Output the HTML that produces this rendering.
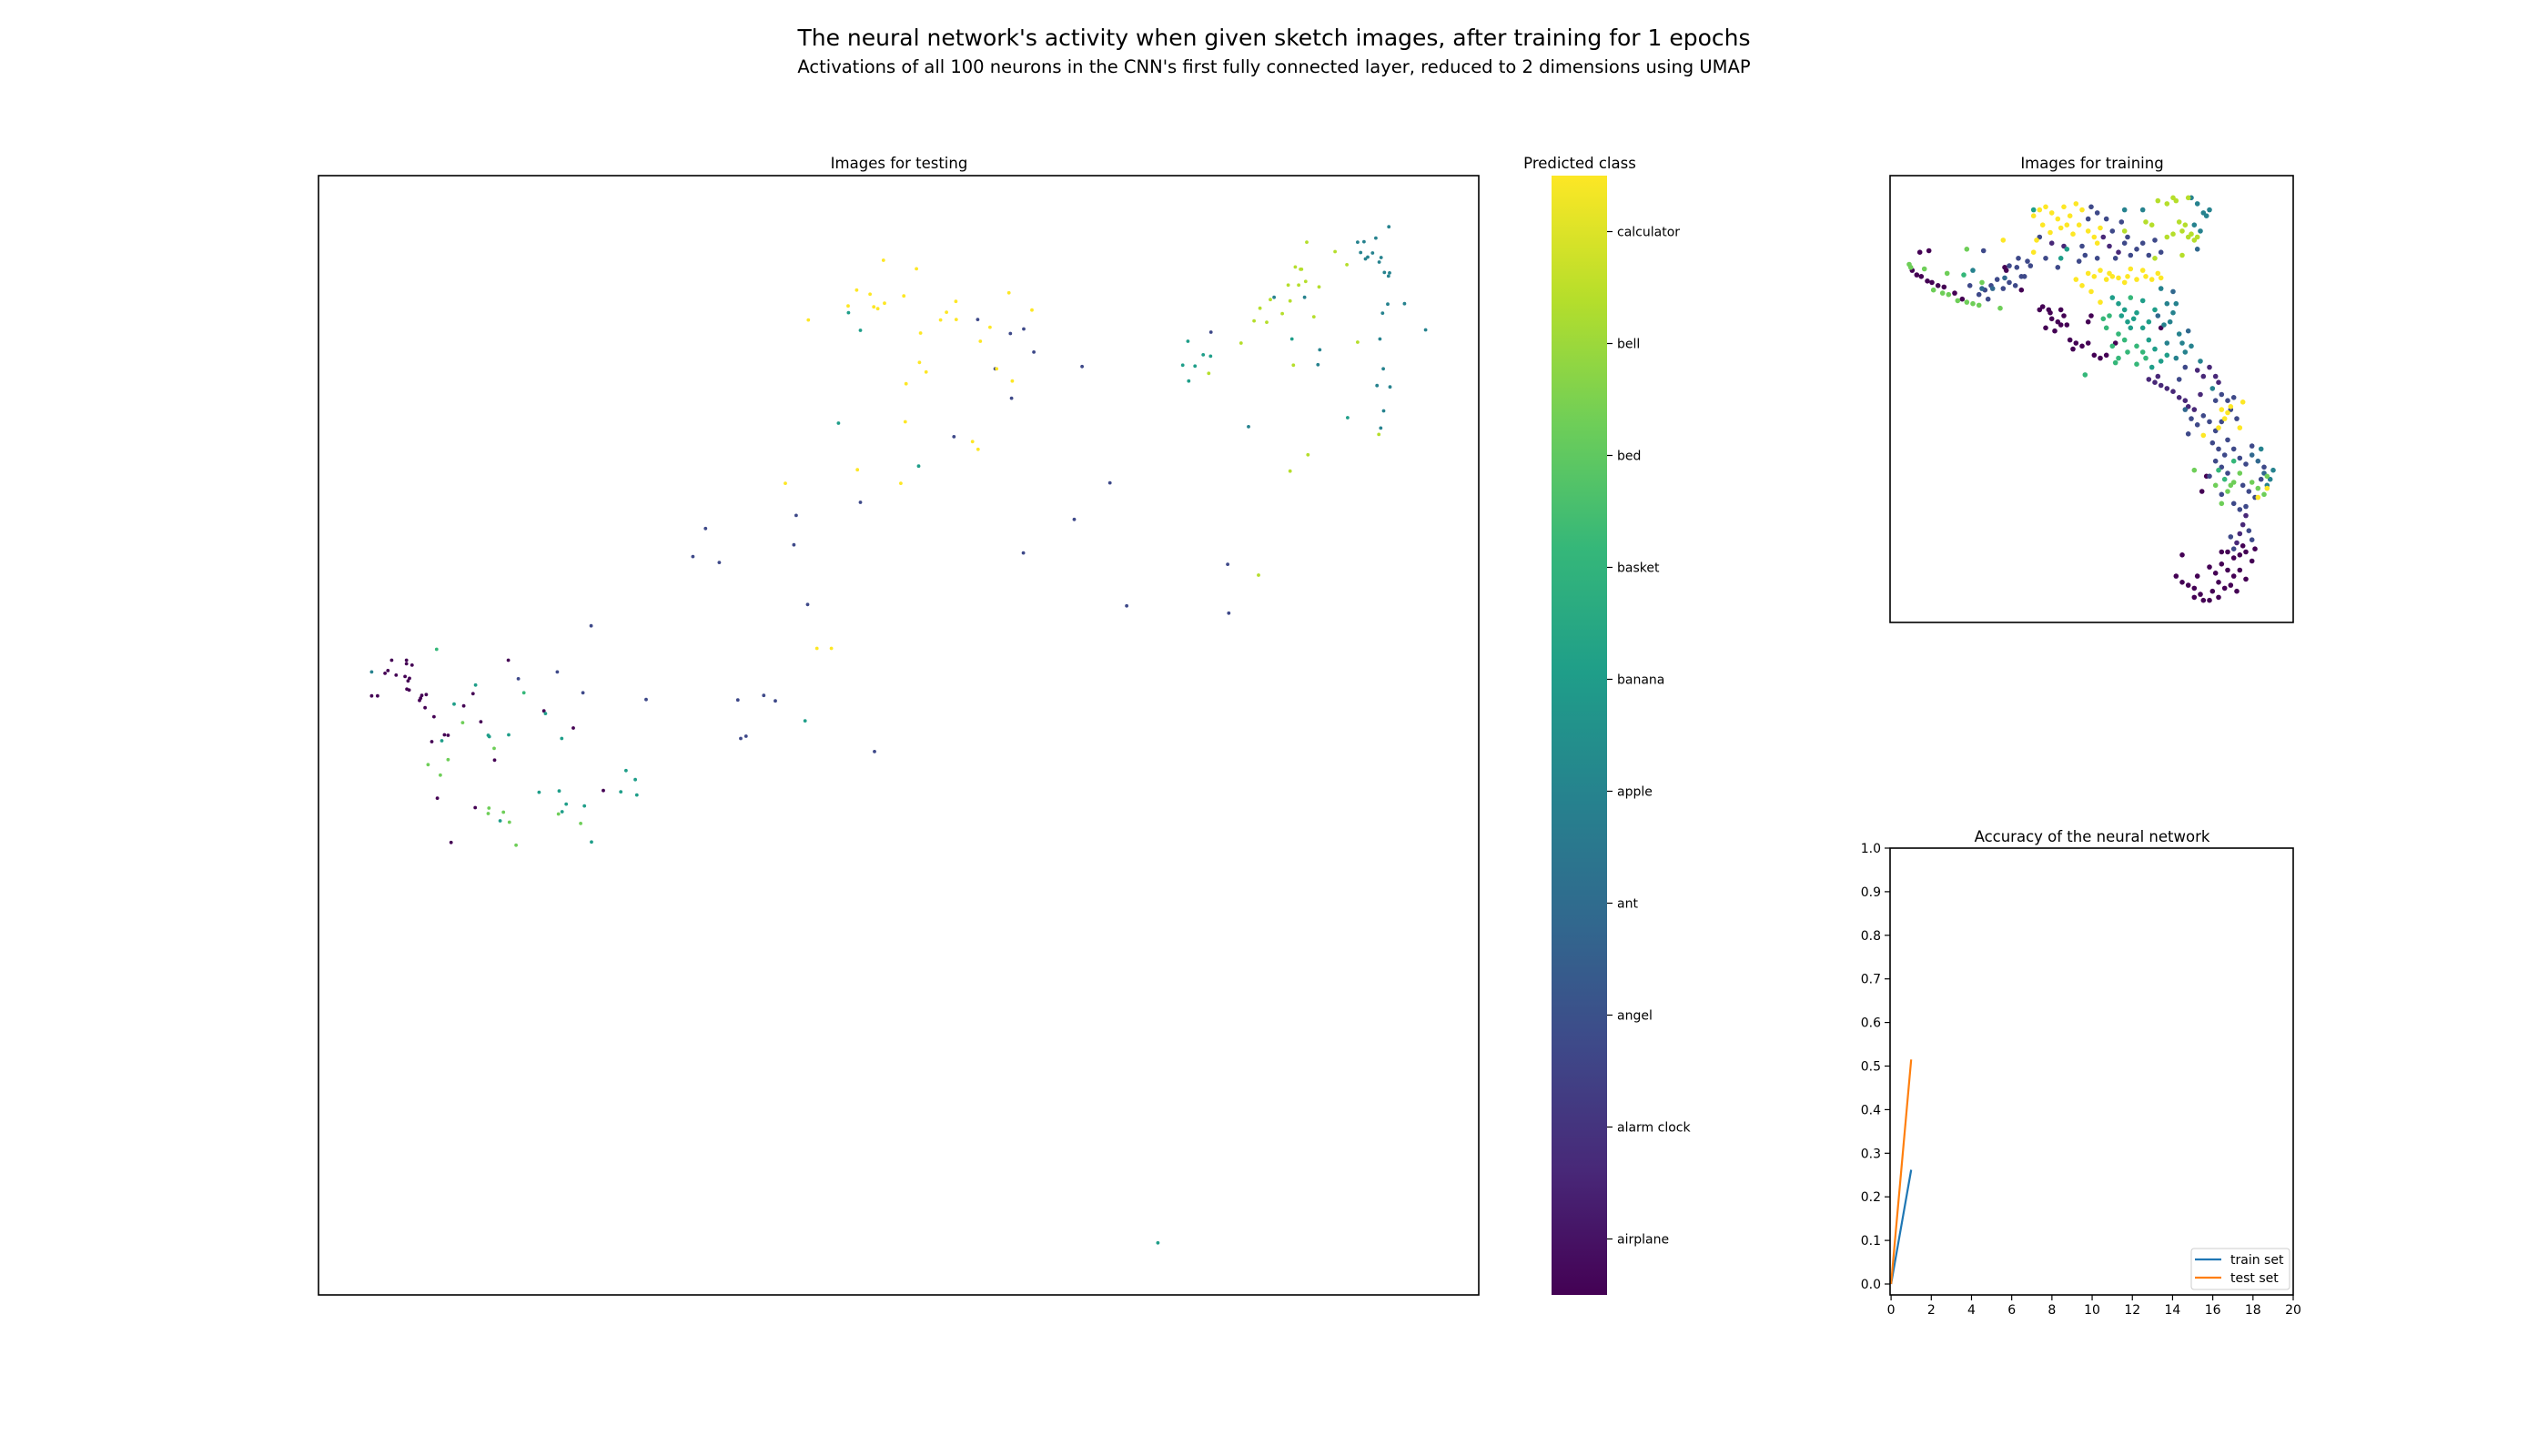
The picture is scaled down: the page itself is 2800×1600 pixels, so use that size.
<!DOCTYPE html>
<html><head><meta charset="utf-8"><style>
html,body{margin:0;padding:0;background:#fff;}
svg{display:block;font-family:"DejaVu Sans","Liberation Sans",sans-serif;}
</style></head><body>
<svg id="fig" width="2800" height="1600" viewBox="0 0 2800 1600" xmlns="http://www.w3.org/2000/svg">
<defs>
<linearGradient id="viridis" x1="0" y1="1" x2="0" y2="0">
<stop offset="0" stop-color="#440154"/><stop offset="0.111" stop-color="#482878"/><stop offset="0.222" stop-color="#3e4989"/><stop offset="0.333" stop-color="#31688e"/><stop offset="0.444" stop-color="#26828e"/><stop offset="0.556" stop-color="#1f9e89"/><stop offset="0.667" stop-color="#35b779"/><stop offset="0.778" stop-color="#6ece58"/><stop offset="0.889" stop-color="#b5de2b"/><stop offset="1" stop-color="#fde725"/>
</linearGradient>
</defs>
<text x="1400" y="50" font-size="25" text-anchor="middle">The neural network's activity when given sketch images, after training for 1 epochs</text>
<text x="1400" y="80" font-size="19.5" text-anchor="middle">Activations of all 100 neurons in the CNN's first fully connected layer, reduced to 2 dimensions using UMAP</text>

<g id="test-plot">
<text x="988" y="185" font-size="16.5" text-anchor="middle">Images for testing</text>
<g id="test-points"></g>
<rect x="350" y="193" width="1275" height="1230" fill="none" stroke="#000" stroke-width="1.6"/>
</g>

<g id="colorbar">
<text x="1736" y="185" font-size="16.5" text-anchor="middle">Predicted class</text>
<rect x="1705" y="193" width="61" height="1230" fill="url(#viridis)"/>
<g id="cbar-ticks"></g>
</g>

<g id="train-plot">
<text x="2299" y="185" font-size="16.5" text-anchor="middle">Images for training</text>
<g id="train-points"></g>
<rect x="2077" y="193" width="443" height="491" fill="none" stroke="#000" stroke-width="1.6"/>
</g>

<g id="acc-plot">
<text x="2299" y="925" font-size="16.5" text-anchor="middle">Accuracy of the neural network</text>
<g id="acc-axes"></g>
<g id="acc-lines"></g>
<rect x="2077" y="932" width="443" height="491" fill="none" stroke="#000" stroke-width="1.6"/>
<g id="acc-legend">
<rect x="2408" y="1372" width="108" height="45" rx="3" fill="#fff" fill-opacity="0.8" stroke="#ccc"/>
<line x1="2412" y1="1384" x2="2441" y2="1384" stroke="#1f77b4" stroke-width="2.2"/>
<text x="2451" y="1389" font-size="14">train set</text>
<line x1="2412" y1="1404" x2="2441" y2="1404" stroke="#ff7f0e" stroke-width="2.2"/>
<text x="2451" y="1409" font-size="14">test set</text>
</g>
</g>
</svg>
<script>
const classNames = ["airplane","alarm clock","angel","ant","apple","banana","basket","bed","bell","calculator"];
const classColors = ["#440154","#482878","#3e4989","#31688e","#26828e","#1f9e89","#35b779","#6ece58","#b5de2b","#fde725"];

// Test-set UMAP embedding, per predicted class: [umap1, umap2]
const testAirplane = [[1.92,-10.67],[2.32,-10.67],[2.32,-10.75],[2.47,-10.78],[5.06,-10.67],[1.82,-10.90],[1.74,-10.96],[2.04,-11.00],[2.28,-11.03],[2.40,-11.07],[2.36,-11.13],[2.33,-11.31],[2.39,-11.33],[2.85,-11.43],[2.73,-11.45],[1.38,-11.46],[1.54,-11.46],[4.11,-11.41],[2.70,-11.51],[2.67,-11.56],[3.86,-11.68],[2.82,-11.72],[6.02,-11.79],[3.06,-11.92],[4.32,-12.03],[6.81,-12.17],[3.34,-12.32],[3.44,-12.33],[3.00,-12.47],[4.69,-12.88],[7.62,-13.55],[3.15,-13.72],[4.17,-13.93],[3.52,-14.70]];
const testAngel = [[14.54,-7.18],[12.81,-7.47],[10.37,-7.76],[12.75,-8.12],[10.03,-8.38],[10.74,-8.51],[13.12,-9.44],[7.29,-9.91],[5.33,-11.08],[6.38,-10.93],[7.07,-11.39],[8.77,-11.54],[11.24,-11.55],[11.94,-11.45],[12.25,-11.57],[11.32,-12.40],[11.46,-12.35],[14.92,-12.69],[17.70,-3.14],[18.94,-3.35],[18.58,-3.45],[19.21,-3.86],[23.98,-3.42],[20.51,-4.18],[18.17,-4.23],[18.61,-4.88],[17.06,-5.73],[21.26,-6.75],[20.30,-7.56],[18.93,-8.30],[24.43,-8.55],[21.71,-9.47],[24.46,-9.63]];
const testApple = [[1.38,-10.93],[28.77,-1.09],[27.93,-1.43],[28.10,-1.42],[28.42,-1.34],[28.01,-1.66],[28.33,-1.67],[28.20,-1.76],[28.14,-1.80],[28.56,-1.77],[28.51,-1.87],[28.65,-2.10],[28.79,-2.11],[28.76,-2.18],[25.68,-2.65],[26.50,-2.65],[29.19,-2.79],[28.74,-2.80],[28.60,-3.00],[29.76,-3.37],[28.53,-3.57],[26.91,-3.81],[26.86,-4.14],[28.62,-4.23],[28.45,-4.60],[28.80,-4.63],[28.63,-5.16],[24.99,-5.51],[28.55,-5.54]];
const testBanana = [[14.22,-2.99],[14.54,-3.38],[13.95,-5.43],[4.18,-11.22],[3.60,-11.64],[6.06,-11.85],[13.05,-12.01],[4.52,-12.33],[4.55,-12.36],[5.07,-12.32],[3.27,-12.45],[6.50,-12.40],[8.23,-13.11],[8.48,-13.31],[5.89,-13.59],[6.43,-13.56],[8.09,-13.58],[8.52,-13.65],[6.62,-13.85],[7.11,-13.89],[6.51,-14.02],[4.84,-14.22],[7.30,-14.69],[23.36,-3.62],[26.16,-3.57],[23.77,-3.92],[23.97,-3.95],[23.22,-4.15],[23.55,-4.17],[23.38,-4.50],[27.66,-5.31],[16.11,-6.38],[22.55,-23.55]];
const testBasket = [[3.13,-10.43],[5.48,-11.39]];
const testBed = [[3.83,-12.05],[4.68,-12.62],[3.44,-12.87],[2.90,-12.98],[3.23,-13.21],[4.54,-13.94],[4.52,-14.06],[4.93,-14.03],[6.41,-14.07],[5.09,-14.25],[7.01,-14.28],[5.27,-14.76]];
const testBell = [[26.56,-1.43],[27.32,-1.64],[27.64,-1.93],[26.25,-1.98],[26.39,-2.03],[26.42,-2.03],[26.06,-2.38],[26.34,-2.38],[26.53,-2.30],[26.89,-2.42],[25.58,-2.70],[26.11,-2.73],[25.30,-2.89],[25.90,-3.01],[25.14,-3.17],[25.48,-3.20],[26.75,-3.08],[27.93,-3.64],[24.79,-3.66],[26.20,-4.15],[23.92,-4.33],[28.50,-5.68],[26.59,-6.13],[26.11,-6.49],[25.26,-8.79]];
const testCalculator = [[15.16,-1.83],[14.44,-2.49],[14.80,-2.58],[14.21,-2.84],[14.90,-2.86],[15.01,-2.90],[15.19,-2.78],[13.14,-3.15],[14.46,-6.46],[12.52,-6.76],[15.63,-6.76],[13.37,-10.41],[13.76,-10.41],[16.05,-2.02],[15.71,-2.62],[18.54,-2.55],[17.11,-2.74],[16.86,-2.98],[19.16,-2.93],[16.70,-3.15],[17.12,-3.14],[18.03,-3.31],[16.16,-3.44],[17.77,-3.62],[16.13,-4.09],[16.31,-4.30],[18.21,-4.23],[18.63,-4.50],[15.77,-4.56],[15.75,-5.40],[17.56,-5.84],[17.71,-6.01]];

// Training-set UMAP embedding, per predicted class: [umap1, umap2]
const trainAirplane = [[0.40,-3.10],[0.55,-3.25],[0.70,-3.30],[0.90,-3.45],[1.05,-3.50],[1.25,-3.60],[0.65,-2.50],[0.95,-2.45],[1.45,-3.65],[1.80,-3.85],[2.05,-4.05],[3.45,-3.00],[3.50,-3.10],[4.00,-3.75],[4.60,-4.40],[4.95,-4.50],[4.70,-4.30],[4.90,-4.40],[5.00,-4.70],[5.20,-4.80],[5.30,-4.90],[5.40,-4.60],[5.10,-5.10],[5.60,-5.40],[5.80,-5.50],[6.00,-5.60],[6.20,-5.50],[5.70,-5.70],[6.40,-5.90],[6.60,-6.00],[5.50,-4.90],[4.80,-5.00],[5.30,-4.40],[6.20,-4.80],[6.30,-4.60],[6.80,-5.90],[7.10,-5.50],[8.60,-5.00],[10.10,-9.90],[9.95,-10.40],[10.80,-12.40],[11.00,-12.60],[11.20,-12.50],[11.40,-12.40],[11.60,-12.70],[10.60,-12.80],[10.80,-13.00],[11.00,-13.20],[11.20,-13.00],[10.50,-13.40],[10.70,-13.60],[10.90,-13.50],[11.10,-13.70],[10.30,-13.70],[10.50,-13.90],[10.20,-14.00],[9.90,-13.80],[9.70,-13.60],[9.50,-13.50],[9.30,-13.40],[9.10,-13.20],[9.70,-13.90],[10.00,-14.00],[10.40,-13.10],[10.60,-12.40],[11.40,-13.30],[11.70,-12.30],[9.30,-12.50],[11.30,-12.20],[10.20,-12.90],[9.80,-13.20]];
const trainAlarmClock = [[8.20,-6.70],[8.40,-6.80],[8.60,-6.90],[8.80,-7.00],[8.50,-6.60],[9.00,-7.10],[9.20,-7.30],[9.40,-7.40],[9.50,-7.60],[9.70,-7.70],[9.80,-6.40],[10.00,-6.60],[10.20,-6.30],[10.40,-6.60],[10.50,-6.80],[9.90,-7.20],[11.40,-11.20],[11.30,-11.50],[11.20,-11.80],[11.10,-12.10],[6.70,-2.00],[6.90,-2.30],[7.20,-2.50],[5.40,-2.30],[5.00,-2.20]];
const trainAngel = [[2.30,-3.60],[2.60,-3.90],[2.80,-3.75],[3.00,-3.60],[3.20,-3.40],[3.40,-3.70],[3.60,-3.50],[3.80,-3.60],[2.90,-4.05],[3.60,-2.95],[3.85,-3.00],[4.10,-3.30],[4.30,-2.95],[2.75,-2.45],[6.30,-1.00],[6.50,-1.20],[6.80,-1.40],[6.20,-1.40],[7.00,-1.80],[7.40,-2.20],[7.60,-2.60],[7.80,-2.40],[7.50,-2.00],[8.00,-2.20],[8.20,-2.60],[6.00,-2.30],[4.80,-2.70],[4.60,-2.00],[5.90,-2.80],[6.10,-2.60],[7.30,-1.50],[8.40,-2.10],[5.20,-3.00],[4.20,-2.80],[4.00,-3.30],[3.90,-2.70],[6.50,-2.70],[7.10,-2.70],[8.60,-2.50],[10.00,-7.90],[10.20,-8.10],[10.40,-7.40],[10.60,-7.20],[10.80,-7.40],[10.90,-7.70],[11.00,-7.30],[9.60,-8.00],[9.80,-8.20],[10.40,-8.40],[10.60,-8.10],[11.10,-8.00],[9.20,-6.70],[9.40,-6.30],[10.80,-8.70],[9.50,-8.50],[10.30,-8.80],[10.50,-9.00],[10.70,-9.20],[10.40,-9.40],[10.60,-9.60],[10.80,-9.80],[11.00,-9.00],[11.20,-9.30],[11.40,-9.50],[11.60,-8.90],[11.30,-10.20],[11.50,-10.40],[11.70,-10.60],[11.90,-10.00],[10.20,-9.90],[11.00,-10.80],[11.20,-11.00],[11.40,-10.90],[12.00,-9.60],[10.60,-10.50],[11.00,-12.30],[11.50,-11.70],[11.60,-12.00],[10.90,-11.90]];
const trainAnt = [[2.70,-3.70],[3.05,-3.70],[3.45,-3.35],[9.80,-2.40],[9.00,-3.80],[8.50,-4.60],[9.50,-5.10],[11.60,-9.20],[11.80,-9.40],[12.00,-9.80],[9.40,-7.70]];
const trainApple = [[2.40,-3.10],[9.60,-0.70],[9.80,-0.90],[10.00,-1.20],[10.20,-1.10],[9.70,-1.60],[9.90,-1.80],[10.10,-1.30],[8.00,-1.10],[7.40,-1.10],[8.60,-3.70],[8.80,-4.20],[9.00,-4.50],[8.90,-4.80],[9.10,-4.20],[8.70,-4.90],[9.20,-5.20],[9.30,-5.50],[8.80,-5.50],[9.40,-5.80],[9.10,-6.00],[9.60,-5.60],[9.90,-6.10],[10.30,-7.00],[12.20,-10.00],[12.30,-9.70],[11.90,-9.00],[12.10,-10.20]];
const trainBanana = [[5.30,-2.70],[5.50,-2.40],[4.40,-1.10],[7.00,-4.00],[7.20,-4.20],[7.40,-4.40],[7.30,-4.60],[7.50,-4.80],[7.60,-5.00],[7.80,-4.50],[7.70,-4.70],[8.00,-5.00],[8.20,-5.40],[8.40,-5.70],[8.60,-6.10],[8.80,-5.90],[8.30,-6.30],[8.40,-4.40],[8.20,-4.80],[8.00,-4.10]];
const trainBasket = [[7.20,-5.20],[7.40,-5.40],[7.00,-5.60],[7.20,-6.00],[7.50,-5.80],[7.80,-5.60],[8.00,-5.80],[7.80,-6.20],[6.80,-5.00],[6.90,-4.60],[7.10,-6.15],[6.70,-4.70],[7.60,-4.00],[6.10,-6.55],[8.10,-6.00],[2.10,-3.25],[10.50,-9.70],[10.70,-10.00],[11.00,-9.40]];
const trainBed = [[0.30,-2.90],[0.35,-3.00],[1.10,-3.75],[1.40,-3.85],[1.60,-3.90],[1.90,-4.10],[2.20,-4.15],[2.40,-4.20],[2.60,-4.25],[1.55,-3.20],[2.70,-3.50],[3.30,-4.35],[2.20,-2.40],[0.80,-3.05],[10.90,-10.20],[10.80,-10.40],[11.00,-10.10],[11.20,-9.80],[11.80,-10.30],[12.00,-10.50],[12.10,-9.90],[11.60,-10.10],[10.60,-10.80],[10.40,-10.20],[9.70,-9.70]];
const trainBell = [[8.50,-0.80],[8.80,-0.90],[9.10,-0.80],[9.50,-0.70],[9.20,-1.50],[9.40,-1.60],[9.30,-1.80],[9.50,-2.00],[9.70,-2.10],[9.60,-1.90],[9.80,-2.00],[9.00,-1.90],[8.80,-2.00],[8.30,-1.60],[8.40,-2.70],[8.10,-1.50],[7.40,-1.80],[9.30,-2.60],[9.00,-0.70]];
const trainCalculator = [[4.40,-1.30],[4.60,-1.10],[4.80,-1.00],[5.00,-1.20],[5.20,-1.40],[5.40,-1.00],[5.50,-1.60],[5.60,-1.30],[5.30,-1.70],[5.70,-1.90],[5.90,-1.60],[4.70,-1.60],[4.50,-2.10],[4.40,-2.50],[6.00,-1.10],[6.20,-1.80],[6.40,-2.00],[5.80,-0.90],[6.50,-2.20],[4.95,-1.85],[6.60,-1.70],[3.40,-2.10],[6.20,-3.20],[6.40,-3.30],[6.60,-3.10],[6.80,-3.40],[7.00,-3.30],[7.20,-3.35],[6.90,-3.20],[7.50,-3.30],[7.80,-3.40],[8.10,-3.30],[8.30,-3.40],[8.50,-3.20],[8.00,-3.10],[6.00,-3.60],[5.80,-3.40],[6.60,-4.15],[7.40,-3.50],[8.60,-3.35],[7.60,-3.05],[6.30,-3.80],[10.60,-7.70],[10.80,-7.80],[10.70,-8.00],[10.90,-7.60],[11.30,-7.45],[10.50,-8.30],[11.20,-8.30],[10.00,-8.55],[12.10,-10.30],[11.80,-10.60]];

// Accuracy history
const epochs = [0, 1];
const trainAccuracy = [0.0, 0.262];
const testAccuracy = [0.0, 0.515];
const accXTicks = [0,2,4,6,8,10,12,14,16,18,20];
const accYTicks = [0.0,0.1,0.2,0.3,0.4,0.5,0.6,0.7,0.8,0.9,1.0];

const NS = "http://www.w3.org/2000/svg";
function lin(d0,d1,r0,r1){return v=>r0+(v-d0)/(d1-d0)*(r1-r0);}

const testXS = lin(-0.05,31.19,350,1625);
const testYS = lin(0.04,-24.70,193,1423);
const trainXS = lin(-0.33,12.96,2077,2520);
const trainYS = lin(0.03,-14.73,193,684);

const testSets = [testAirplane,[],testAngel,[],testApple,testBanana,testBasket,testBed,testBell,testCalculator];
const trainSets = [trainAirplane,trainAlarmClock,trainAngel,trainAnt,trainApple,trainBanana,trainBasket,trainBed,trainBell,trainCalculator];

const tg = document.getElementById('test-points');
testSets.forEach((pts,ci)=>{
  pts.forEach(p=>{
    const c=document.createElementNS(NS,'circle');
    c.setAttribute('cx',testXS(p[0]).toFixed(1));
    c.setAttribute('cy',testYS(p[1]).toFixed(1));
    c.setAttribute('r','1.9');
    c.setAttribute('fill',classColors[ci]);
    
    
    tg.appendChild(c);
  });
});
const trg = document.getElementById('train-points');
trainSets.forEach((pts,ci)=>{
  pts.forEach(p=>{
    const c=document.createElementNS(NS,'circle');
    c.setAttribute('cx',trainXS(p[0]).toFixed(1));
    c.setAttribute('cy',trainYS(p[1]).toFixed(1));
    c.setAttribute('r','2.8');
    c.setAttribute('fill',classColors[ci]);
    
    
    trg.appendChild(c);
  });
});

// colorbar ticks
const cbS = lin(-0.5,9.5,1423,193);
const cb = document.getElementById('cbar-ticks');
classNames.forEach((n,i)=>{
  const y=cbS(i);
  const l=document.createElementNS(NS,'line');
  l.setAttribute('x1',1766);l.setAttribute('x2',1772);l.setAttribute('y1',y);l.setAttribute('y2',y);
  l.setAttribute('stroke','#000');l.setAttribute('stroke-width','1.2');
  
  
  cb.appendChild(l);
  const t=document.createElementNS(NS,'text');
  t.setAttribute('x',1777);t.setAttribute('y',y+5);t.setAttribute('font-size','14');
  t.textContent=n;
  
  
  cb.appendChild(t);
});

// accuracy chart
const accX = lin(-0.05,20,2077,2520);
const accY = lin(0,1,1411,932);
const ax = document.getElementById('acc-axes');
accXTicks.forEach(v=>{
  const x=accX(v);
  const l=document.createElementNS(NS,'line');
  l.setAttribute('x1',x);l.setAttribute('x2',x);l.setAttribute('y1',1423);l.setAttribute('y2',1429);
  l.setAttribute('stroke','#000');l.setAttribute('stroke-width','1.2');
  
  
  ax.appendChild(l);
  const t=document.createElementNS(NS,'text');
  t.setAttribute('x',x);t.setAttribute('y',1444);t.setAttribute('font-size','14');t.setAttribute('text-anchor','middle');
  t.textContent=String(v);
  
  
  ax.appendChild(t);
});
accYTicks.forEach(v=>{
  const y=accY(v);
  const l=document.createElementNS(NS,'line');
  l.setAttribute('x1',2071);l.setAttribute('x2',2077);l.setAttribute('y1',y);l.setAttribute('y2',y);
  l.setAttribute('stroke','#000');l.setAttribute('stroke-width','1.2');
  
  
  ax.appendChild(l);
  const t=document.createElementNS(NS,'text');
  t.setAttribute('x',2067);t.setAttribute('y',y+5);t.setAttribute('font-size','14');t.setAttribute('text-anchor','end');
  t.textContent=v.toFixed(1);
  
  
  ax.appendChild(t);
});
const lg = document.getElementById('acc-lines');
function drawLine(vals,color,name){
  const p=document.createElementNS(NS,'polyline');
  p.setAttribute('points',epochs.map((e,i)=>accX(e).toFixed(1)+','+accY(vals[i]).toFixed(1)).join(' '));
  p.setAttribute('fill','none');p.setAttribute('stroke',color);p.setAttribute('stroke-width','2.2');
  
  
  lg.appendChild(p);
}
drawLine(trainAccuracy,'#1f77b4','train-accuracy-line');
drawLine(testAccuracy,'#ff7f0e','test-accuracy-line');
</script>
</body></html>
